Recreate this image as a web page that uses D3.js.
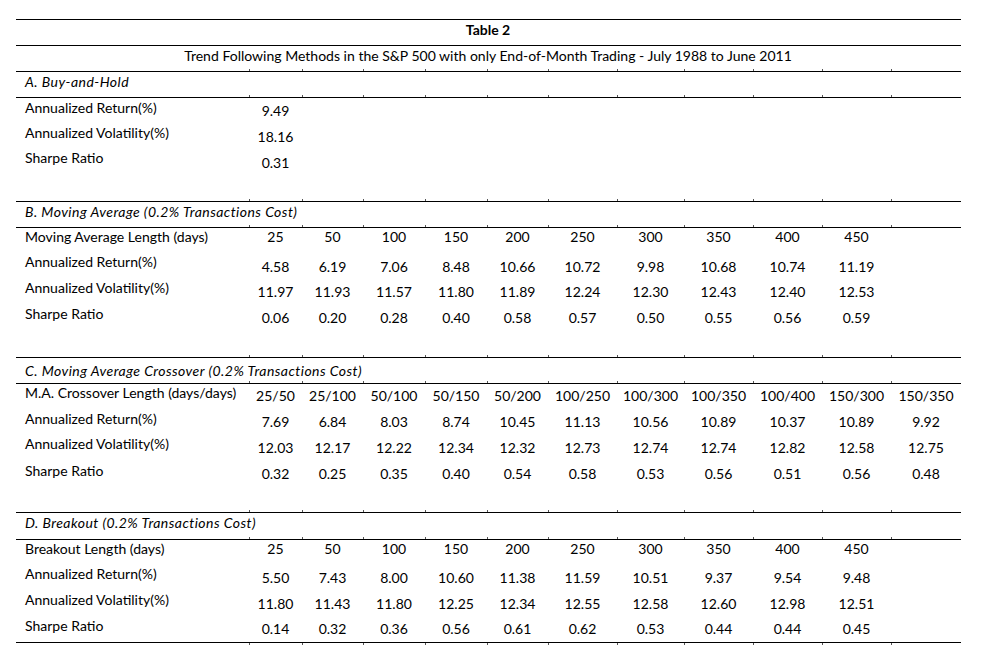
<!DOCTYPE html>
<html>
<head>
<meta charset="utf-8">
<script src="https://cdn.jsdelivr.net/npm/d3@7"></script>
<style>
  body { margin: 0; background: #fff; }
  text { font-family: Lato, "Open Sans", sans-serif; fill: #000; }
</style>
</head>
<body>
<script>
// table texts
var title = "Table 2";
var subtitle = "Trend Following Methods in the S&P 500 with only End-of-Month Trading - July 1988 to June 2011";

var headerA = "A. Buy-and-Hold";
var rowsA = ["Annualized Return(%)", "Annualized Volatility(%)", "Sharpe Ratio"];
var valuesA = [["9.49"], ["18.16"], ["0.31"]];

var headerB = "B. Moving Average (0.2% Transactions Cost)";
var rowsB = ["Moving Average Length (days)", "Annualized Return(%)", "Annualized Volatility(%)", "Sharpe Ratio"];
var lengthsB = ["25", "50", "100", "150", "200", "250", "300", "350", "400", "450"];
var returnB = ["4.58", "6.19", "7.06", "8.48", "10.66", "10.72", "9.98", "10.68", "10.74", "11.19"];
var volB = ["11.97", "11.93", "11.57", "11.80", "11.89", "12.24", "12.30", "12.43", "12.40", "12.53"];
var sharpeB = ["0.06", "0.20", "0.28", "0.40", "0.58", "0.57", "0.50", "0.55", "0.56", "0.59"];

var headerC = "C. Moving Average Crossover (0.2% Transactions Cost)";
var rowsC = ["M.A. Crossover Length (days/days)", "Annualized Return(%)", "Annualized Volatility(%)", "Sharpe Ratio"];
var lengthsC = ["25/50", "25/100", "50/100", "50/150", "50/200", "100/250", "100/300", "100/350", "100/400", "150/300", "150/350"];
var returnC = ["7.69", "6.84", "8.03", "8.74", "10.45", "11.13", "10.56", "10.89", "10.37", "10.89", "9.92"];
var volC = ["12.03", "12.17", "12.22", "12.34", "12.32", "12.73", "12.74", "12.74", "12.82", "12.58", "12.75"];
var sharpeC = ["0.32", "0.25", "0.35", "0.40", "0.54", "0.58", "0.53", "0.56", "0.51", "0.56", "0.48"];

var headerD = "D. Breakout (0.2% Transactions Cost)";
var rowsD = ["Breakout Length (days)", "Annualized Return(%)", "Annualized Volatility(%)", "Sharpe Ratio"];
var lengthsD = ["25", "50", "100", "150", "200", "250", "300", "350", "400", "450"];
var returnD = ["5.50", "7.43", "8.00", "10.60", "11.38", "11.59", "10.51", "9.37", "9.54", "9.48"];
var volD = ["11.80", "11.43", "11.80", "12.25", "12.34", "12.55", "12.58", "12.60", "12.98", "12.51"];
var sharpeD = ["0.14", "0.32", "0.36", "0.56", "0.61", "0.62", "0.53", "0.44", "0.44", "0.45"];

// layout
var width = 998, height = 664;
var left = 16, right = 961, labelX = 25;
var fontSize = 13;

var svg = d3.select("body").append("svg")
    .attr("width", width)
    .attr("height", height);

// column borders (label column ends at 249)
var colScale = d3.scaleLinear()
    .domain(d3.range(12))
    .range([249, 302, 363, 425, 487, 548, 617, 684, 753, 822, 891, 961]);

// fit font size so the subtitle matches its width in the picture
var probe = svg.append("text").style("font-size", fontSize + "px").text(subtitle);
var w = probe.node().getComputedTextLength();
probe.remove();
fontSize = fontSize * 608 / w;

function hline(y, ticks, down) {
    svg.append("line")
        .attr("x1", left).attr("x2", right)
        .attr("y1", y + 0.5).attr("y2", y + 0.5)
        .attr("stroke", "#000")
        .attr("shape-rendering", "crispEdges");
    if (ticks) {
        svg.selectAll(null)
            .data(d3.range(11))
            .enter()
            .append("line")
                .attr("x1", (d) => colScale(d) + 0.5)
                .attr("x2", (d) => colScale(d) + 0.5)
                .attr("y1", y + (down ? 1 : 0))
                .attr("y2", y + (down ? 3 : -2))
                .attr("stroke", "#555")
                .attr("shape-rendering", "crispEdges");
    }
}

function txt(x, yc, s, anchor, extra) {
    var t = svg.append("text")
        .attr("x", x)
        .attr("y", yc + fontSize * 0.36)
        .attr("text-anchor", anchor || "start")
        .style("font-size", fontSize + "px")
        .text(s);
    if (extra) extra(t);
    return t;
}

// italic headers are wider in the original (Calibri italic)
function italic(t) {
    t.style("font-style", "italic").style("letter-spacing", "0.45px");
}

// title block
hline(19, false);
txt(488, 30, title, "middle", (t) => t.style("font-weight", "bold"));
hline(45, false);
txt(488, 56, subtitle, "middle");

function section(s) {
    hline(s.top, true);
    txt(labelX, s.head, s.header, "start", italic);
    hline(s.headLine, true);
    s.rows.forEach((r, i) => {
        txt(labelX, s.labelY[i], r, "start");
        s.values[i].forEach((v, j) => {
            txt((colScale(j) + colScale(j + 1)) / 2, s.valueY[i], v, "middle");
        });
    });
}

section({top: 71, head: 82, headLine: 97, header: headerA, rows: rowsA,
    values: valuesA, labelY: [108, 133, 158], valueY: [111, 137, 163]});
section({top: 201, head: 212, headLine: 227, header: headerB, rows: rowsB,
    values: [lengthsB, returnB, volB, sharpeB], labelY: [237, 262, 288, 314], valueY: [237, 267, 292, 318]});
section({top: 357, head: 371, headLine: 383, header: headerC, rows: rowsC,
    values: [lengthsC, returnC, volC, sharpeC], labelY: [393, 419, 444, 471], valueY: [396, 422, 448, 474]});
section({top: 512, head: 523, headLine: 539, header: headerD, rows: rowsD,
    values: [lengthsD, returnD, volD, sharpeD], labelY: [549, 574, 600, 626], valueY: [549, 578, 604, 629]});

hline(642, true, true);
</script>
</body>
</html>
